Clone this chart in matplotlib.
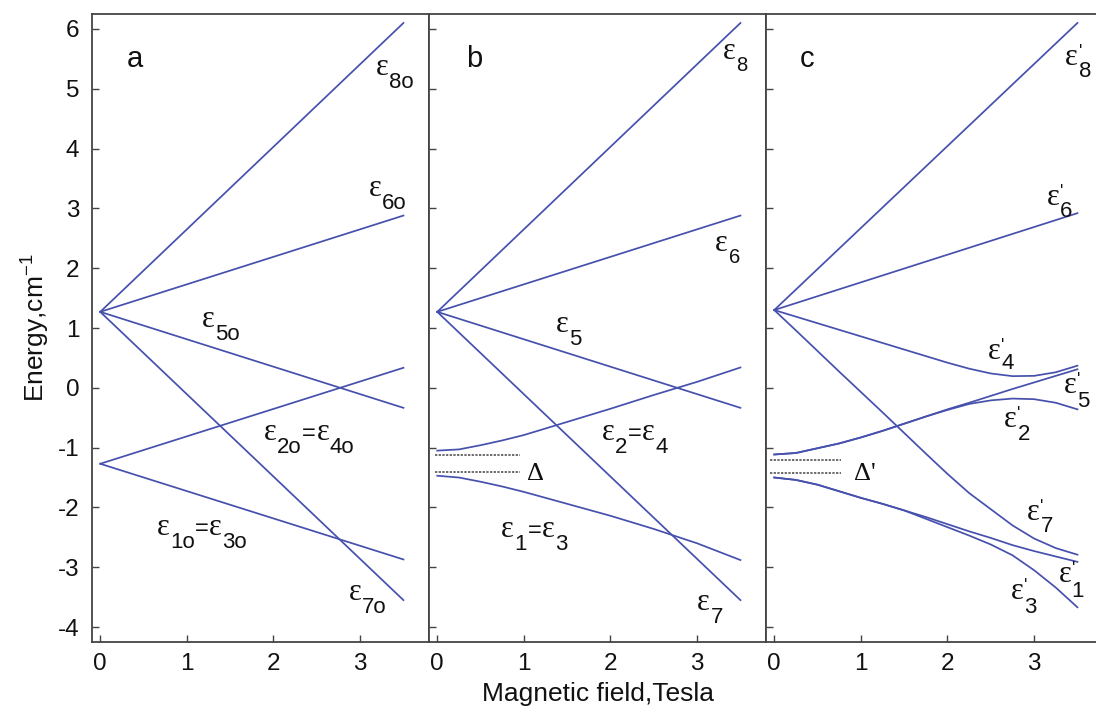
import numpy as np
import matplotlib
matplotlib.use('Agg')
import matplotlib.pyplot as plt

plt.rcParams['font.family'] = ['Liberation Sans', 'DejaVu Sans']
plt.rcParams['mathtext.fontset'] = 'custom'
plt.rcParams['mathtext.rm'] = 'Liberation Sans'
plt.rcParams['axes.unicode_minus'] = False

## energy levels (cm^-1) vs magnetic field (Tesla)
field_ends = [0.0, 3.5]

# panel a: zero-order levels, straight lines
a_e8 = [1.27, 6.10]
a_e6 = [1.27, 2.88]
a_e5 = [1.27, -0.335]
a_e7 = [1.27, -3.55]
a_e2 = [-1.27, 0.335]
a_e1 = [-1.27, -2.87]

# panel b
b_e8 = [1.27, 6.10]
b_e6 = [1.27, 2.88]
b_e5 = [1.27, -0.335]
b_e7 = [1.27, -3.55]
field_b = [0, 0.25, 0.5, 0.75, 1.0, 1.5, 2.0, 2.5, 3.0, 3.5]
b_e2 = [-1.05, -1.03, -0.96, -0.88, -0.79, -0.57, -0.35, -0.12, 0.10, 0.34]
b_e1 = [-1.47, -1.50, -1.57, -1.65, -1.74, -1.94, -2.14, -2.36, -2.60, -2.88]
b_gap = [-1.127, -1.406]
b_gap_span = [-0.03, 0.95]

# panel c
c_e8 = [1.30, 6.10]
c_e6 = [1.30, 2.92]
field_c = [0, 0.25, 0.5, 0.75, 1.0, 1.25, 1.5, 1.75, 2.0, 2.25, 2.5, 2.75, 3.0, 3.25, 3.5]
c_e4 = [1.30, 1.19, 1.08, 0.97, 0.86, 0.75, 0.64, 0.53, 0.42, 0.32, 0.24, 0.195, 0.20, 0.26, 0.37]
c_e7 = [1.30, 0.96, 0.615, 0.27, -0.07, -0.41, -0.755, -1.10, -1.44, -1.76, -2.03, -2.30, -2.52, -2.68, -2.79]
c_e5 = [-1.115, -1.09, -1.01, -0.93, -0.83, -0.72, -0.60, -0.48, -0.36, -0.25, -0.135, -0.02, 0.09, 0.20, 0.31]
c_e2 = [-1.115, -1.09, -1.01, -0.93, -0.83, -0.72, -0.60, -0.48, -0.37, -0.27, -0.21, -0.18, -0.19, -0.25, -0.36]
c_e1 = [-1.50, -1.54, -1.62, -1.73, -1.84, -1.94, -2.05, -2.16, -2.28, -2.40, -2.51, -2.63, -2.73, -2.82, -2.91]
c_e3 = [-1.50, -1.54, -1.62, -1.73, -1.84, -1.94, -2.05, -2.19, -2.33, -2.47, -2.62, -2.80, -3.05, -3.34, -3.67]
c_gap = [-1.20, -1.42]
c_gap_span = [-0.05, 0.77]

yticks = [-4, -3, -2, -1, 0, 1, 2, 3, 4, 5, 6]
xticks = [0, 1, 2, 3]

col = '#4650ad'
lw = 1.25
ink = '#111111'

fig = plt.figure(figsize=(10.96, 7.13), dpi=100)
W = 337 / 1096.
H = (642 - 14) / 713.
bot = 1 - 642 / 713.
ax_a = fig.add_axes([92 / 1096., bot, W, H])
ax_b = fig.add_axes([429 / 1096., bot, W, H])
ax_c = fig.add_axes([766 / 1096., bot, W, H])
axes = [ax_a, ax_b, ax_c]

for ax in axes:
    ax.set_xlim(-0.095, 3.795)
    ax.set_ylim(-4.25, 6.25)
    ax.set_xticks(xticks)
    ax.set_yticks(yticks)
    ax.tick_params(direction='in', length=5, width=1.0, labelsize=17.5,
                   top=False, right=False, color='#444444', labelcolor=ink, pad=8)
    ax.tick_params(axis='y', pad=9)
    for s in ax.spines.values():
        s.set_color('#444444')
        s.set_linewidth(1.3)
for ax in [ax_b, ax_c]:
    ax.tick_params(labelleft=False)
    ax.spines['left'].set_zorder(3)

# panel a
for e in [a_e8, a_e6, a_e5, a_e7, a_e2, a_e1]:
    ax_a.plot(field_ends, e, color=col, lw=lw)

# panel b
for e in [b_e8, b_e6, b_e5, b_e7]:
    ax_b.plot(field_ends, e, color=col, lw=lw)
ax_b.plot(field_b, b_e2, color=col, lw=lw)
ax_b.plot(field_b, b_e1, color=col, lw=lw)
for g in b_gap:
    ax_b.plot(b_gap_span, [g, g], color='#444444', lw=1.1, ls=(0, (1.5, 0.9)))

# panel c
for e in [c_e8, c_e6]:
    ax_c.plot(field_ends, e, color=col, lw=lw)
for e in [c_e4, c_e7, c_e5, c_e2, c_e1, c_e3]:
    ax_c.plot(field_c, e, color=col, lw=lw)
for g in c_gap:
    ax_c.plot(c_gap_span, [g, g], color='#444444', lw=1.1, ls=(0, (1.5, 0.9)))

renderer = fig.canvas.get_renderer()


def put(ax, x, y, parts):
    # parts: (text, family, size, dy in px, advance?)
    dx = 0
    for s, fam, fs, dy, adv in parts:
        t = ax.annotate(s, xy=(x, y), xytext=(dx, dy), textcoords='offset pixels',
                        ha='left', va='baseline', fontsize=fs, family=fam,
                        color=ink, annotation_clip=False)
        if adv:
            dx += t.get_window_extent(renderer).width + 0.5


SERIF = 'Liberation Serif'
SANS = 'Liberation Sans'


def eps(sub, prime=False, sdy=-12, sfs=16):
    p = [('ε', SERIF, 22, 0, True)]
    if prime:
        p.append(("'", SANS, 13, 8, False))
    p.append((sub, SANS, sfs, sdy, True))
    return p


eq = [('=', SANS, 17, 0, True)]

# panel a labels
ax_a.text(0.31, 5.37, 'a', fontsize=21, color=ink)
put(ax_a, 3.18, 5.23, eps('8o', sdy=-13))
put(ax_a, 3.10, 3.20, eps('6o', sdy=-13))
put(ax_a, 1.17, 1.02, eps('5o', sdy=-13))
put(ax_a, 1.89, -0.875, eps('2o', sdy=-13) + eq + eps('4o', sdy=-13))
put(ax_a, 0.65, -2.465, eps('1o', sdy=-13) + eq + eps('3o', sdy=-13))
put(ax_a, 2.87, -3.55, eps('7o', sdy=-13))

# panel b labels
ax_b.text(0.33, 5.37, 'b', fontsize=21, color=ink)
put(ax_b, 3.30, 5.49, eps('8', sdy=-12, sfs=14.5))
put(ax_b, 3.21, 2.28, eps('6', sdy=-12, sfs=14.5))
put(ax_b, 1.37, 0.94, eps('5', sdy=-13))
put(ax_b, 1.90, -0.875, eps('2', sdy=-13) + eq + eps('4', sdy=-13))
put(ax_b, 0.74, -2.49, eps('1', sdy=-13) + eq + eps('3', sdy=-13))
put(ax_b, 3.00, -3.71, eps('7', sdy=-13))
ax_b.text(1.04, -1.545, 'Δ', family=SERIF, fontsize=19, color=ink)

# panel c labels
ax_c.text(0.30, 5.37, 'c', fontsize=21, color=ink)
put(ax_c, 3.36, 5.40, eps('8', prime=True, sdy=-12))
put(ax_c, 3.15, 3.06, eps('6', prime=True, sdy=-12))
put(ax_c, 2.47, 0.49, eps('4', prime=True, sdy=-10))
put(ax_c, 3.34, -0.094, eps('5', prime=True, sdy=-14))
put(ax_c, 2.655, -0.65, eps('2', prime=True, sdy=-13))
put(ax_c, 2.92, -2.215, eps('7', prime=True, sdy=-12))
put(ax_c, 3.28, -3.25, eps('1', prime=True, sdy=-15))
put(ax_c, 2.73, -3.525, eps('3', prime=True, sdy=-14))
ax_c.text(0.92, -1.545, "Δ'", family=SERIF, fontsize=19, color=ink)

fig.text(35 / 1096., 1 - 328 / 713., r'Energy,cm$^{\mathregular{-1}}$', rotation=90,
         ha='center', va='center', fontsize=19, color=ink)
fig.text(598 / 1096., 1 - 701 / 713., 'Magnetic field,Tesla', ha='center',
         va='baseline', fontsize=19, color=ink)

fig.savefig('out.png', dpi=100)
